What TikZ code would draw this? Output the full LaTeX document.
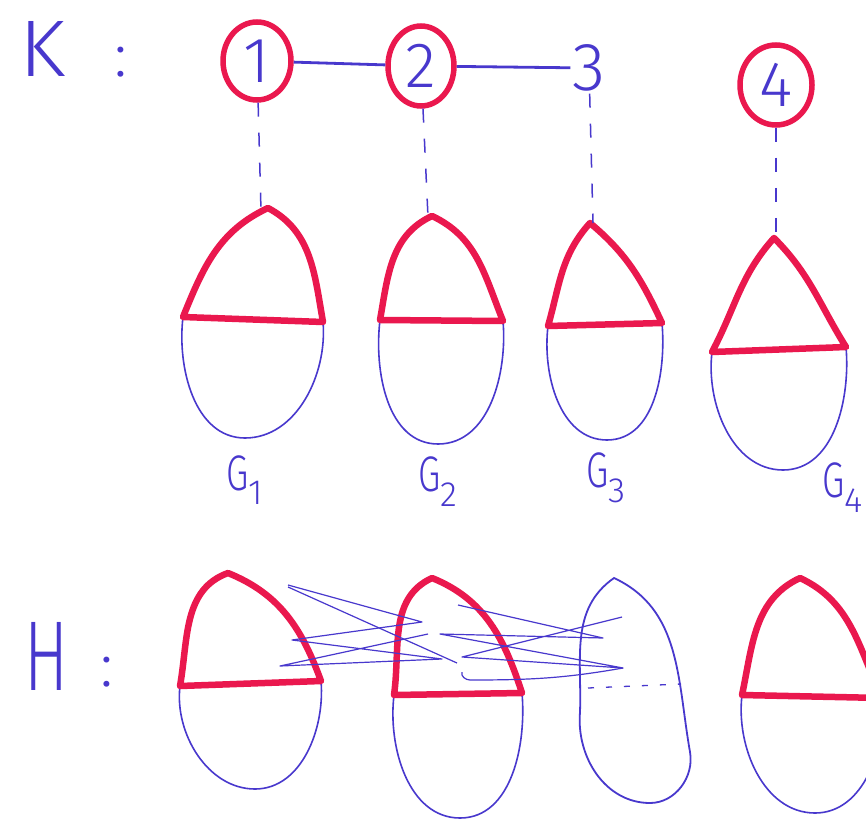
\documentclass[tikz,border=0pt]{standalone}
\usepackage{fontspec}
\setmainfont{Fira Sans}[UprightFont=* Light]
\usetikzlibrary{shapes.geometric}
\definecolor{penblue}{RGB}{72,56,205}
\definecolor{penred}{RGB}{234,24,78}
\tikzset{
  bluepen/.style={draw=penblue, line width=1.6pt},
  redpen/.style={draw=penred, line width=6.5pt, line join=round, line cap=round},
  knode/.style={ellipse, draw=penred, line width=5.5pt, text=penblue, inner sep=0pt,
    font=\fontsize{64}{64}\selectfont},
  plainnum/.style={text=penblue, inner sep=2pt, font=\fontsize{68}{68}\selectfont},
  kedge/.style={draw=penblue, line width=2.8pt},
  proj/.style={draw=penblue, line width=1.5pt, dash pattern=on 14pt off 16pt},
  glabel/.style={text=penblue, font=\fontsize{50}{50}\selectfont, anchor=west, inner sep=0pt},
  bigletter/.style={text=penblue, inner sep=0pt},
  colon/.style={text=penblue, inner sep=0pt, font=\fontsize{62}{62}\selectfont},
  scrib/.style={draw=penblue, line width=1.2pt, line join=round},
}
% #1 left, #2 apex, #3 right, #4 bottom, #5-#8 angles of the top
\newcommand\redegg[8]{%
  \draw[bluepen] (#1) to[out=-97,in=180,looseness=0.95] (#4) to[out=0,in=-85,looseness=0.95] (#3);
  \draw[redpen] (#1) to[out=#5,in=#6] (#2) to[out=#7,in=#8] (#3) -- cycle;
}
\newcommand\gsub[1]{\scalebox{0.72}[1]{G}\textsubscript{#1}}
\begin{document}
\begin{tikzpicture}[x=1pt,y=1pt]
\path[use as bounding box] (0,0) rectangle (866,-821);
\fill[white] (0,0) rectangle (866,-821);
\clip (0,0) rectangle (866,-821);

% ---- K row ----
\node[bigletter, anchor=center] (K) at (43,-49) {\resizebox{46pt}{55pt}{K}};
\node[colon, anchor=center] (Kc) at (121,-62) {:};

\node[knode, minimum width=68pt, minimum height=78pt] (n1) at (257,-61) {1};
\node[knode, minimum width=66pt, minimum height=80pt] (n2) at (421,-66) {2};
\node[plainnum] (n3) at (589,-68) {3};
\node[knode, minimum width=72pt, minimum height=80pt] (n4) at (776,-85) {4};

\draw[kedge] (n1) -- (n2);
\draw[kedge] (n2) -- (n3);

% ---- upper eggs ----
\coordinate (L1) at (183,-317); \coordinate (A1) at (268,-208);
\coordinate (R1) at (323,-322); \coordinate (B1) at (245,-438);
\coordinate (L2) at (380,-320); \coordinate (A2) at (432,-216);
\coordinate (R2) at (503,-321); \coordinate (B2) at (438,-444);
\coordinate (L3) at (548,-326); \coordinate (A3) at (590,-223);
\coordinate (R3) at (662,-323); \coordinate (B3) at (607,-440);
\coordinate (L4) at (712,-352); \coordinate (A4) at (774,-238);
\coordinate (R4) at (846,-347); \coordinate (B4) at (783,-470);

\redegg{L1}{A1}{R1}{B1}{68}{205}{-28}{100}
\redegg{L2}{A2}{R2}{B2}{80}{205}{-25}{112}
\redegg{L3}{A3}{R3}{B3}{74}{228}{-40}{115}
\redegg{L4}{A4}{R4}{B4}{62}{228}{-45}{122}

\coordinate (t1) at (261,-211);
\coordinate (t2) at (428,-217);
\coordinate (t3) at (593,-223);
\coordinate (t4) at (776,-238);
\draw[proj] (n1) -- (t1);
\draw[proj] (n2) -- (t2);
\draw[proj] (n3) -- (t3);
\draw[proj] (n4) -- (t4);

\node[glabel] (g1) at (226,-480) {\gsub{1}};
\node[glabel] (g2) at (418,-482) {\gsub{2}};
\node[glabel] (g3) at (586,-478) {\gsub{3}};
\node[glabel] (g4) at (822,-488) {\gsub{4}};

% ---- H row ----
\node[bigletter, anchor=center] (H) at (47,-656) {\resizebox{44pt}{68pt}{H}};
\node[colon, anchor=center] (Hc) at (107,-672) {:};

\coordinate (HL1) at (180,-686); \coordinate (HA1) at (228,-573);
\coordinate (HR1) at (321,-681); \coordinate (HB1) at (255,-789);
\coordinate (HL2) at (394,-695); \coordinate (HA2) at (432,-578);
\coordinate (HR2) at (522,-693); \coordinate (HB2) at (460,-818);
\coordinate (HL4) at (742,-695); \coordinate (HA4) at (800,-578);
\coordinate (HR4) at (882,-698); \coordinate (HB4) at (815,-813);

\redegg{HL1}{HA1}{HR1}{HB1}{80}{200}{-22}{110}
\redegg{HL2}{HA2}{HR2}{HB2}{82}{205}{-22}{108}
\redegg{HL4}{HA4}{HR4}{HB4}{78}{205}{-25}{115}

% third egg of H: blue only
\draw[bluepen, line width=1.8pt] (580,-712) to[out=88,in=215] (614,-578)
  to[out=-25,in=100] (690,-752) to[out=-80,in=0] (650,-803)
  to[out=180,in=-95] cycle;
\draw[bluepen, line width=1.3pt, dash pattern=on 6pt off 12pt] (588,-688) -- (681,-684);

% scribbled edges between the pieces of H
\draw[scrib] (288,-585) -- (422,-622) -- (292,-640) -- (442,-659) -- (280,-666) -- (428,-634);
\draw[scrib] (288,-587) -- (457,-663);
\draw[scrib] (458,-605) -- (603,-638) -- (440,-634) -- (623,-668) -- (462,-657) -- (622,-617);
\draw[scrib] (623,-668) to[out=190,in=0] (470,-680) to[out=180,in=-110] (462,-672);
\end{tikzpicture}
\end{document}
